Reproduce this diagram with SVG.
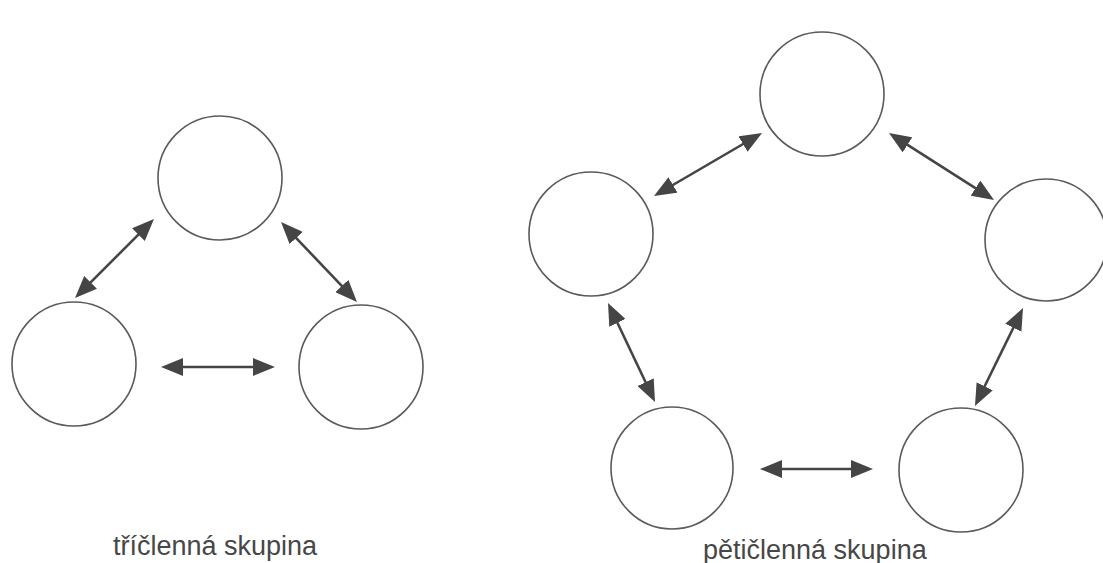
<svg xmlns="http://www.w3.org/2000/svg" width="1103" height="563" viewBox="0 0 1103 563">
  <style>
    .member { fill: #ffffff; stroke: #5a5a5a; stroke-width: 1.6; }
    .link { stroke: #454545; stroke-width: 2.6; fill: none; marker-start: url(#head); marker-end: url(#head); }
    .caption { font-family: "Liberation Sans", Arial, sans-serif; font-size: 27px; fill: #474747; }
  </style>
  <defs>
    <!-- solid arrowhead; tip sits 10px beyond the line end -->
    <marker id="head" markerUnits="userSpaceOnUse" viewBox="0 0 22 18" markerWidth="22" markerHeight="18" refX="12" refY="9" orient="auto-start-reverse">
      <path d="M0,0 L22,9 L0,18 Z" fill="#454545"/>
    </marker>
  </defs>
  <rect width="1103" height="563" fill="#ffffff"/>

  <!-- three-member group -->
  <g id="tri-top"><circle class="member" cx="220" cy="178" r="62"/></g>
  <g id="tri-left"><circle class="member" cx="74" cy="364" r="62"/></g>
  <g id="tri-right"><circle class="member" cx="361" cy="367" r="62"/></g>

  <!-- five-member group -->
  <g id="pent-top"><circle class="member" cx="822" cy="94" r="62"/></g>
  <g id="pent-left"><circle class="member" cx="591" cy="234" r="62"/></g>
  <g id="pent-right"><circle class="member" cx="1046" cy="240" r="61"/></g>
  <g id="pent-bottom-left"><circle class="member" cx="672" cy="468" r="61"/></g>
  <g id="pent-bottom-right"><circle class="member" cx="961" cy="470" r="62"/></g>

  <g id="connectors">
    <line class="link" x1="82.1" y1="290.9" x2="146.9" y2="226.1"/>
    <line class="link" x1="287.9" y1="229.3" x2="350.1" y2="294.7"/>
    <line class="link" x1="171" y1="367" x2="265" y2="367"/>

    <line class="link" x1="662.6" y1="191.0" x2="753.4" y2="138.0"/>
    <line class="link" x1="897.4" y1="138.4" x2="985.6" y2="194.6"/>
    <line class="link" x1="612.3" y1="312.0" x2="650.7" y2="393.0"/>
    <line class="link" x1="1018.6" y1="317.0" x2="979.4" y2="397.0"/>
    <line class="link" x1="770" y1="469" x2="863" y2="469"/>
  </g>

  <g id="labels">
    <text class="caption" x="113" y="555">tříčlenná skupina</text>
    <text class="caption" x="703" y="559">pětičlenná skupina</text>
  </g>
</svg>
